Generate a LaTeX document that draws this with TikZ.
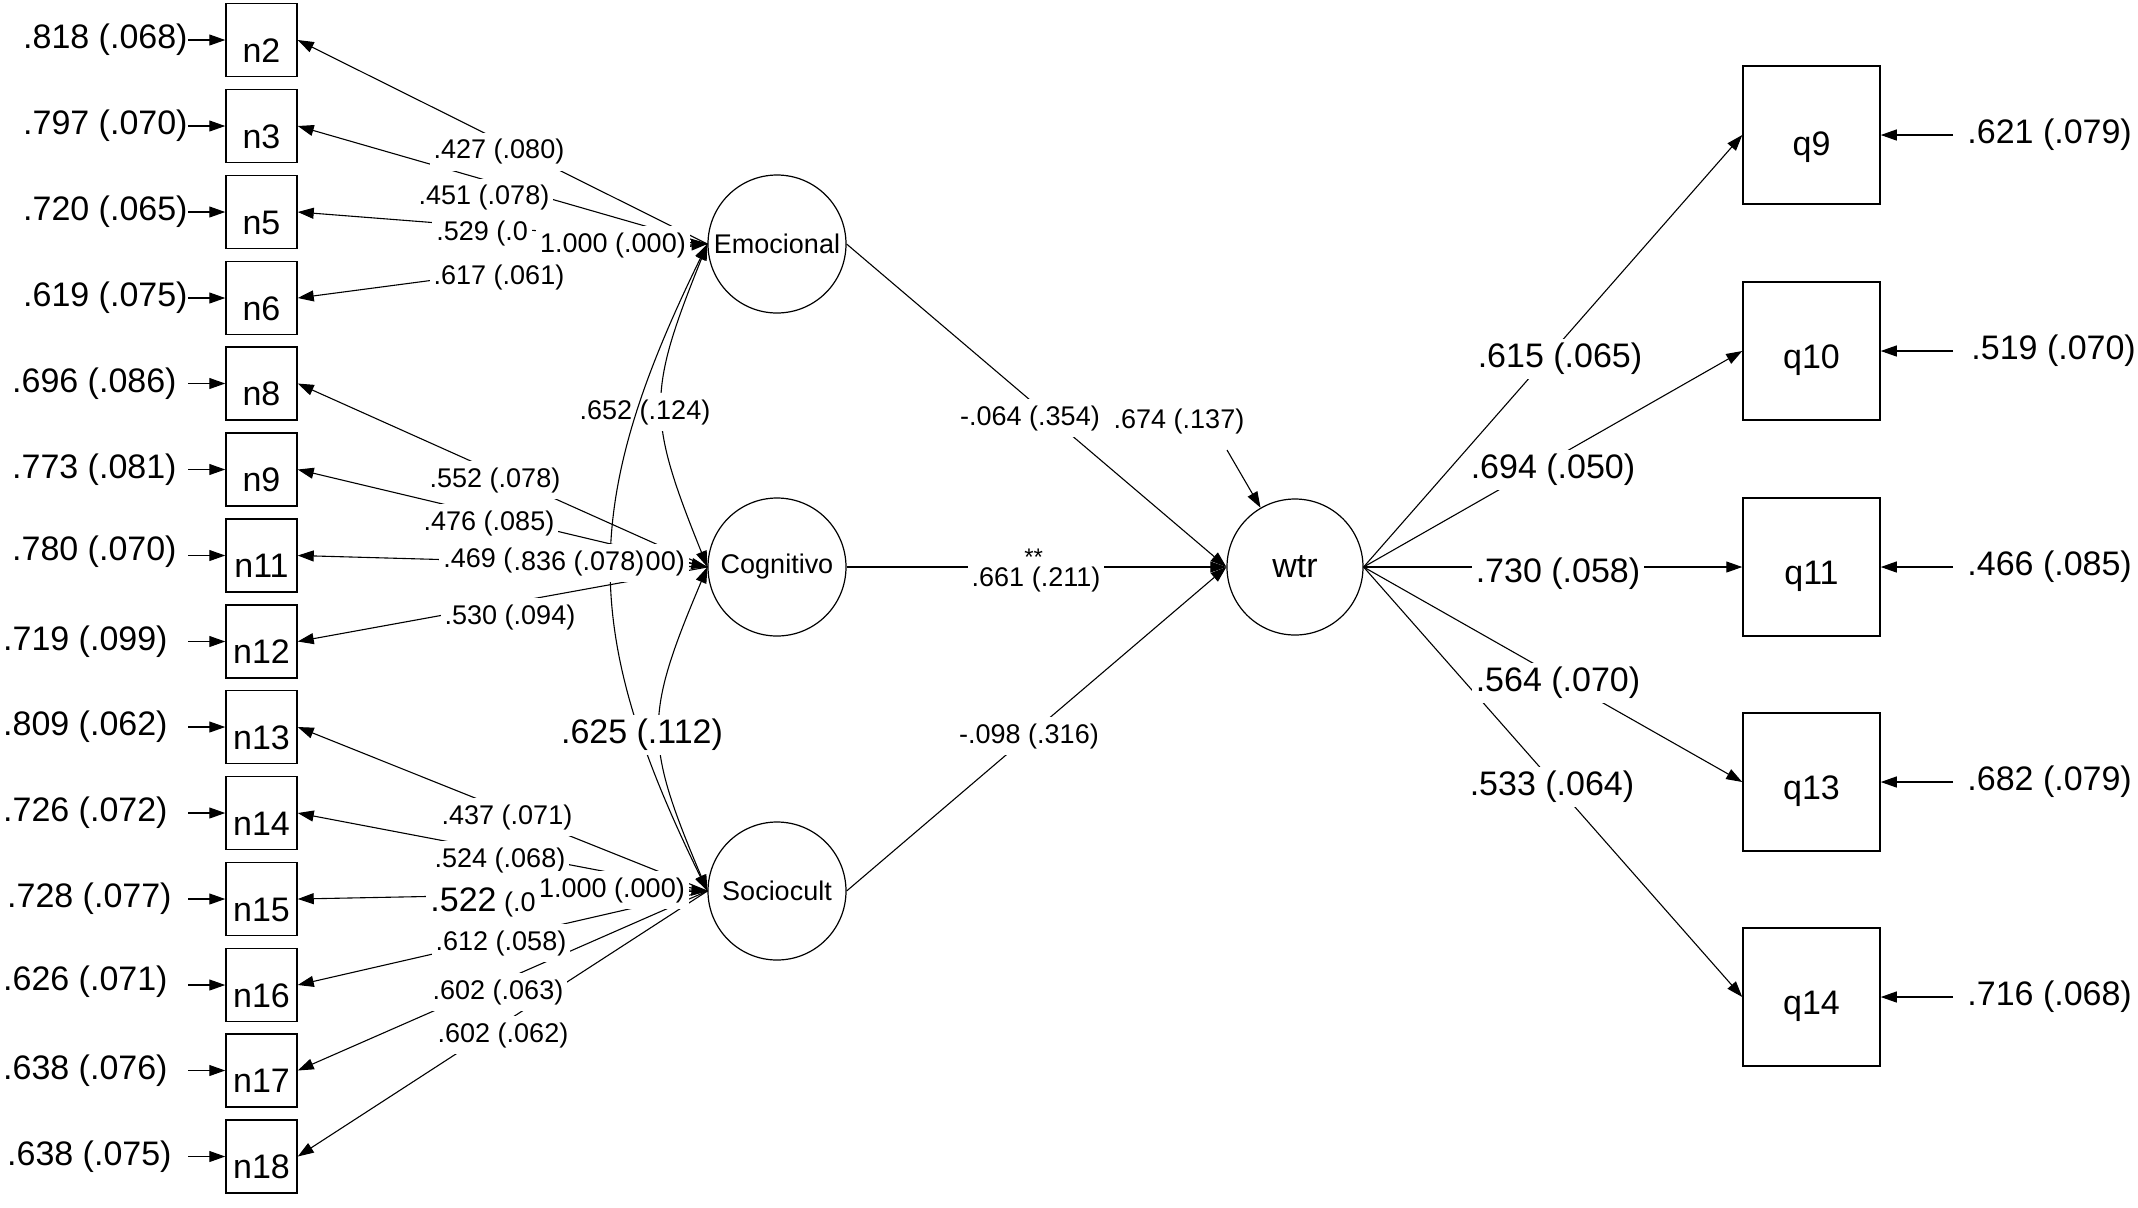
\documentclass[tikz,border=0pt]{standalone}
\usepackage{fontspec}
\setmainfont{Liberation Sans}
\usetikzlibrary{arrows.meta}
\pgfdeclarelayer{bg}
\pgfsetlayers{bg,main}
\begin{document}
\begin{tikzpicture}[x=0.5pt,y=-0.5pt,
  arr/.style={line width=0.55pt, -{Triangle[length=8pt,width=5.5pt]}},
  darr/.style={line width=0.55pt, {Triangle[length=8pt,width=5.5pt]}-{Triangle[length=8pt,width=5.5pt]}},
  bigf/.style={font=\fontsize{17}{20}\selectfont},
  smf/.style={font=\fontsize{13.5}{16}\selectfont},
  obs/.style={draw, line width=0.75pt, minimum width=35.5pt, minimum height=36.5pt, inner sep=0pt, bigf, text height=22pt, text depth=0pt},
  qbox/.style={draw, line width=0.75pt, minimum width=68.5pt, minimum height=69pt, inner sep=0pt, bigf, text height=17pt, text depth=0pt},
  lat/.style={draw, circle, line width=0.6pt, minimum size=69pt, inner sep=0pt, smf},
  err/.style={bigf, inner sep=0pt},
  lab/.style={smf, fill=white, inner xsep=2pt, inner ysep=3pt},
  blab/.style={bigf, fill=white, inner xsep=2pt, inner ysep=2pt},
]
\useasboundingbox (0,0) rectangle (2138,1207);

% observed indicators (left)
\node[obs] (n2)  at (261.5,40)    {n2};
\node[obs] (n3)  at (261.5,126)   {n3};
\node[obs] (n5)  at (261.5,212)   {n5};
\node[obs] (n6)  at (261.5,298)   {n6};
\node[obs] (n8)  at (261.5,383.5) {n8};
\node[obs] (n9)  at (261.5,469.5) {n9};
\node[obs] (n11) at (261.5,555.5) {n11};
\node[obs] (n12) at (261.5,641.5) {n12};
\node[obs] (n13) at (261.5,727)   {n13};
\node[obs] (n14) at (261.5,813)   {n14};
\node[obs] (n15) at (261.5,899)   {n15};
\node[obs] (n16) at (261.5,985)   {n16};
\node[obs] (n17) at (261.5,1070.5){n17};
\node[obs] (n18) at (261.5,1156.5){n18};

% error variances (left)
\node[err, anchor=east] (e2)  at (188,40)    {.818 (.068)};
\node[err, anchor=east] (e3)  at (188,126)   {.797 (.070)};
\node[err, anchor=east] (e5)  at (188,212)   {.720 (.065)};
\node[err, anchor=east] (e6)  at (188,298)   {.619 (.075)};
\node[err, anchor=east] (e8)  at (177,383.5) {.696 (.086)};
\node[err, anchor=east] (e9)  at (177,469.5) {.773 (.081)};
\node[err, anchor=east] (e11) at (177,552)   {.780 (.070)};
\node[err, anchor=east] (e12) at (168,641.5) {.719 (.099)};
\node[err, anchor=east] (e13) at (168,727)   {.809 (.062)};
\node[err, anchor=east] (e14) at (168,813)   {.726 (.072)};
\node[err, anchor=east] (e15) at (172,899)   {.728 (.077)};
\node[err, anchor=east] (e16) at (168,982)   {.626 (.071)};
\node[err, anchor=east] (e17) at (168,1070.5){.638 (.076)};
\node[err, anchor=east] (e18) at (172,1156.5){.638 (.075)};
\foreach \i/\y in {2/40,3/126,5/212,6/298,8/383.5,9/469.5,11/555.5,12/641.5,13/727,14/813,15/899,16/985,17/1070.5,18/1156.5}
  \coordinate (a\i) at (188,\y);

% latent variables
\node[lat] (Emo) at (777,244) {Emocional};
\node[lat] (Cog) at (777,567) {Cognitivo};
\node[lat] (Soc) at (777,891) {Sociocult};
\node[lat, font=\fontsize{17}{20}\selectfont, minimum size=68pt] (wtr) at (1295,567) {wtr};

% right indicators
\node[qbox, text height=20pt] (q9)  at (1811.5,135) {q9};
\node[qbox] (q10) at (1811.5,351) {q10};
\node[qbox] (q11) at (1811.5,567) {q11};
\node[qbox] (q13) at (1811.5,782) {q13};
\node[qbox] (q14) at (1811.5,997) {q14};
\node[err, anchor=west] (f9)  at (1967,135) {.621 (.079)};
\node[err, anchor=west] (f10) at (1971,351) {.519 (.070)};
\node[err, anchor=west] (f11) at (1967,567) {.466 (.085)};
\node[err, anchor=west] (f13) at (1967,782) {.682 (.079)};
\node[err, anchor=west] (f14) at (1967,997) {.716 (.068)};
\foreach \i/\y in {9/135,10/351,11/567,13/782,14/997}
  \coordinate (b\i) at (1953,\y);
\coordinate (rWa) at (1227,450);

% labels (white boxes), drawn in order
\node[lab] (l2) at (499,152) {.427 (.080)};
\node[lab] (l3) at (484,198) {.451 (.078)};
\node[lab, anchor=west] (l5) at (432,234) {.529 (.0};
\node[lab] (l6) at (499,277) {.617 (.061)};
\node[lab] (vE) at (613,245) {1.000 (.000)};
\node[lab] (l8) at (495,480) {.552 (.078)};
\node[lab] (l9) at (489,523) {.476 (.085)};
\node[lab, anchor=west] (l11) at (439,560) {.469 (};
\node[lab] (l12) at (510,617) {.530 (.094)};
\node[lab] (vC) at (612,563) {1.000 (.000)};
\node[lab] (l13) at (507,817) {.437 (.071)};
\node[lab] (l14) at (500,860) {.524 (.068)};
\node[lab, anchor=west] (l15) at (426,902) {{\fontsize{17}{20}\selectfont .522} (.0};
\node[lab] (l16) at (501,943) {.612 (.058)};
\node[lab] (l17) at (498,992) {.602 (.063)};
\node[lab] (l18) at (503,1035) {.602 (.062)};
\node[lab] (vS) at (612,890) {1.000 (.000)};
\node[lab] (cEC) at (645,412) {.652 (.124)};
\draw[darr] (Emo.west) .. controls (580,504) and (580,631) .. (Soc.west);
\node[blab] (cCS) at (642,735) {.625 (.112)};
\node[lab, inner xsep=0.5pt] (cES) at (579,563) {.836 (.078)};

\node[lab] (pE) at (1030,418) {-.064 (.354)};
\node[lab] (pC) at (1036,571) {.661\rlap{\raisebox{10.5pt}{\fontsize{12}{12}\selectfont **}} (.211)};
\node[lab] (pS) at (1029,736) {-.098 (.316)};
\node[lab] (rW) at (1179,421) {.674 (.137)};

\node[blab] (k9)  at (1560,359) {.615 (.065)};
\node[blab] (k10) at (1553,470) {.694 (.050)};
\node[blab] (k11) at (1558,574) {.730 (.058)};
\node[blab] (k13) at (1558,683) {.564 (.070)};
\node[blab] (k14) at (1552,787) {.533 (.064)};

% connectors
\begin{pgfonlayer}{bg}
\foreach \i in {2,3,5,6,8,9,11,12,13,14,15,16,17,18}
  \draw[arr] (a\i) -- (n\i.west);
\foreach \i in {2,3,5,6} \draw[arr] (Emo.west) -- (n\i.east);
\foreach \i in {8,9,11,12} \draw[arr] (Cog.west) -- (n\i.east);
\foreach \i in {13,14,15,16,17,18} \draw[arr] (Soc.west) -- (n\i.east);
\draw[arr] (vE.east) -- (Emo.west);
\draw[arr] (vC.east) -- (Cog.west);
\draw[arr] (vS.east) -- (Soc.west);
\draw[darr] (Emo.west) .. controls (647,394) and (647,417) .. (Cog.west);
\draw[darr] (Cog.west) .. controls (644,717) and (644,741) .. (Soc.west);
\draw[arr] (Emo.east) -- (wtr.west);
\draw[arr] (Cog.east) -- (wtr.west);
\draw[arr] (Soc.east) -- (wtr.west);
\draw[arr] (rWa) -- (wtr);
\foreach \i in {9,10,11,13,14} \draw[arr] (wtr.east) -- (q\i.west);
\foreach \i in {9,10,11,13,14} \draw[arr] (b\i) -- (q\i.east);
\end{pgfonlayer}
\end{tikzpicture}
\end{document}
